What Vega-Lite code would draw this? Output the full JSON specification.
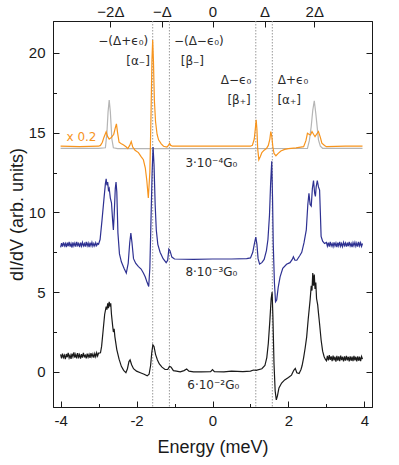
{
"$schema":"https://vega.github.io/schema/vega-lite/v6.json",
"width":319,"height":386,
"autosize":{"type":"none"},
"padding":{"left":53,"top":21,"right":27,"bottom":58},
"background":"white",
"config":{"view":{"stroke":"#1a1a1a","strokeWidth":1},"font":"Liberation Sans",
"axis":{"labelFont":"Liberation Sans","titleFont":"Liberation Sans","grid":false,"domainColor":"#1a1a1a","tickColor":"#1a1a1a","labelColor":"#1a1a1a","titleColor":"#1a1a1a","labelFontSize":15,"titleFontSize":18,"titleFontWeight":"normal","domainWidth":1,"tickWidth":1}},
"datasets":{
"marks":[{"e":-1.575},{"e":-1.135},{"e":1.14},{"e":1.575}],
"notes":[
{"t":"−(Δ+ϵ₀)","e":-2.35,"v":20.75},
{"t":"[α₋]","e":-1.96,"v":19.5},
{"t":"−(Δ−ϵ₀)","e":-0.36,"v":20.75},
{"t":"[β₋]","e":-0.53,"v":19.5},
{"t":"Δ−ϵ₀","e":0.62,"v":18.3},
{"t":"[β₊]","e":0.7,"v":17.06},
{"t":"Δ+ϵ₀","e":2.12,"v":18.3},
{"t":"[α₊]","e":2.02,"v":17.06},
{"t":"x 0.2","e":-3.45,"v":14.75},
{"t":"3·10⁻⁴G₀","e":-0.03,"v":13.1},
{"t":"8·10⁻³G₀","e":-0.03,"v":6.25},
{"t":"6·10⁻²G₀","e":0.02,"v":-0.85}
],
"curves":[
{"s":"gray","e":-4.0,"v":14.02},{"s":"gray","e":-3.0,"v":14.02},{"s":"gray","e":-2.82,"v":14.05},{"s":"gray","e":-2.78,"v":15.0},{"s":"gray","e":-2.75,"v":16.3},{"s":"gray","e":-2.72,"v":17.05},{"s":"gray","e":-2.69,"v":16.3},{"s":"gray","e":-2.65,"v":14.6},{"s":"gray","e":-2.61,"v":14.05},{"s":"gray","e":-2.5,"v":14.0},{"s":"gray","e":0.0,"v":14.0},{"s":"gray","e":2.5,"v":14.02},{"s":"gray","e":2.55,"v":14.5},{"s":"gray","e":2.6,"v":15.4},{"s":"gray","e":2.64,"v":16.4},{"s":"gray","e":2.68,"v":17.0},{"s":"gray","e":2.72,"v":16.2},{"s":"gray","e":2.75,"v":15.5},{"s":"gray","e":2.79,"v":14.55},{"s":"gray","e":2.84,"v":14.15},{"s":"gray","e":2.9,"v":14.02},{"s":"gray","e":3.95,"v":14.02},
{"s":"orange","e":-4.0,"v":14.15},{"s":"orange","e":-3.5,"v":14.13},{"s":"orange","e":-3.0,"v":14.15},{"s":"orange","e":-2.95,"v":14.2},{"s":"orange","e":-2.9,"v":14.4},{"s":"orange","e":-2.86,"v":14.7},{"s":"orange","e":-2.8,"v":15.05},{"s":"orange","e":-2.76,"v":14.75},{"s":"orange","e":-2.72,"v":14.6},{"s":"orange","e":-2.66,"v":14.7},{"s":"orange","e":-2.6,"v":14.9},{"s":"orange","e":-2.56,"v":15.3},{"s":"orange","e":-2.53,"v":15.55},{"s":"orange","e":-2.5,"v":15.0},{"s":"orange","e":-2.46,"v":14.4},{"s":"orange","e":-2.4,"v":14.3},{"s":"orange","e":-2.34,"v":14.22},{"s":"orange","e":-2.27,"v":14.1},{"s":"orange","e":-2.23,"v":14.0},{"s":"orange","e":-2.18,"v":14.2},{"s":"orange","e":-2.14,"v":14.44},{"s":"orange","e":-2.1,"v":14.1},{"s":"orange","e":-2.04,"v":13.9},{"s":"orange","e":-1.95,"v":13.75},{"s":"orange","e":-1.88,"v":13.5},{"s":"orange","e":-1.82,"v":13.3},{"s":"orange","e":-1.77,"v":12.8},{"s":"orange","e":-1.73,"v":12.0},{"s":"orange","e":-1.69,"v":10.9},{"s":"orange","e":-1.65,"v":12.5},{"s":"orange","e":-1.62,"v":16.0},{"s":"orange","e":-1.595,"v":19.5},{"s":"orange","e":-1.575,"v":20.8},{"s":"orange","e":-1.555,"v":19.5},{"s":"orange","e":-1.53,"v":17.0},{"s":"orange","e":-1.5,"v":15.7},{"s":"orange","e":-1.46,"v":14.9},{"s":"orange","e":-1.42,"v":14.55},{"s":"orange","e":-1.35,"v":14.3},{"s":"orange","e":-1.29,"v":14.15},{"s":"orange","e":-1.2,"v":14.1},{"s":"orange","e":-1.16,"v":14.2},{"s":"orange","e":-1.13,"v":14.32},{"s":"orange","e":-1.1,"v":14.2},{"s":"orange","e":-1.05,"v":14.15},{"s":"orange","e":0.0,"v":14.15},{"s":"orange","e":1.0,"v":14.15},{"s":"orange","e":1.05,"v":14.2},{"s":"orange","e":1.1,"v":14.6},{"s":"orange","e":1.13,"v":15.3},{"s":"orange","e":1.15,"v":15.8},{"s":"orange","e":1.17,"v":15.2},{"s":"orange","e":1.19,"v":14.0},{"s":"orange","e":1.22,"v":13.3},{"s":"orange","e":1.26,"v":13.5},{"s":"orange","e":1.3,"v":13.75},{"s":"orange","e":1.36,"v":13.9},{"s":"orange","e":1.42,"v":14.0},{"s":"orange","e":1.47,"v":14.2},{"s":"orange","e":1.51,"v":14.6},{"s":"orange","e":1.535,"v":15.07},{"s":"orange","e":1.56,"v":14.8},{"s":"orange","e":1.59,"v":14.1},{"s":"orange","e":1.62,"v":13.7},{"s":"orange","e":1.67,"v":13.55},{"s":"orange","e":1.73,"v":13.7},{"s":"orange","e":1.8,"v":13.85},{"s":"orange","e":1.9,"v":13.95},{"s":"orange","e":2.0,"v":14.0},{"s":"orange","e":2.2,"v":14.05},{"s":"orange","e":2.4,"v":14.12},{"s":"orange","e":2.46,"v":14.5},{"s":"orange","e":2.5,"v":14.96},{"s":"orange","e":2.54,"v":14.9},{"s":"orange","e":2.58,"v":14.86},{"s":"orange","e":2.62,"v":15.07},{"s":"orange","e":2.66,"v":14.9},{"s":"orange","e":2.7,"v":14.75},{"s":"orange","e":2.74,"v":14.9},{"s":"orange","e":2.79,"v":15.07},{"s":"orange","e":2.84,"v":14.7},{"s":"orange","e":2.88,"v":14.34},{"s":"orange","e":2.95,"v":14.2},{"s":"orange","e":3.0,"v":14.12},{"s":"orange","e":3.5,"v":14.16},{"s":"orange","e":3.95,"v":14.15},
{"s":"blue","e":-4.0,"v":7.8},{"s":"blue","e":-3.975,"v":8.08},{"s":"blue","e":-3.95,"v":7.85},{"s":"blue","e":-3.925,"v":8.12},{"s":"blue","e":-3.9,"v":7.9},{"s":"blue","e":-3.875,"v":8.05},{"s":"blue","e":-3.85,"v":7.82},{"s":"blue","e":-3.825,"v":8.1},{"s":"blue","e":-3.8,"v":7.88},{"s":"blue","e":-3.775,"v":8.15},{"s":"blue","e":-3.75,"v":7.85},{"s":"blue","e":-3.725,"v":8.05},{"s":"blue","e":-3.7,"v":7.8},{"s":"blue","e":-3.675,"v":8.12},{"s":"blue","e":-3.65,"v":7.9},{"s":"blue","e":-3.625,"v":8.08},{"s":"blue","e":-3.6,"v":7.85},{"s":"blue","e":-3.575,"v":8.15},{"s":"blue","e":-3.55,"v":7.92},{"s":"blue","e":-3.525,"v":8.05},{"s":"blue","e":-3.5,"v":7.83},{"s":"blue","e":-3.475,"v":8.1},{"s":"blue","e":-3.45,"v":7.88},{"s":"blue","e":-3.425,"v":8.12},{"s":"blue","e":-3.4,"v":7.9},{"s":"blue","e":-3.375,"v":8.05},{"s":"blue","e":-3.35,"v":7.85},{"s":"blue","e":-3.325,"v":8.15},{"s":"blue","e":-3.3,"v":7.9},{"s":"blue","e":-3.275,"v":8.08},{"s":"blue","e":-3.25,"v":7.82},{"s":"blue","e":-3.225,"v":8.1},{"s":"blue","e":-3.2,"v":7.9},{"s":"blue","e":-3.175,"v":8.12},{"s":"blue","e":-3.15,"v":7.88},{"s":"blue","e":-3.125,"v":8.05},{"s":"blue","e":-3.1,"v":7.9},{"s":"blue","e":-3.075,"v":8.1},{"s":"blue","e":-3.05,"v":7.92},{"s":"blue","e":-3.025,"v":8.05},{"s":"blue","e":-3.0,"v":8.0},
{"s":"blue","e":-2.96,"v":8.3},{"s":"blue","e":-2.91,"v":9.5},{"s":"blue","e":-2.86,"v":10.8},{"s":"blue","e":-2.82,"v":11.8},{"s":"blue","e":-2.8,"v":12.1},{"s":"blue","e":-2.78,"v":11.7},{"s":"blue","e":-2.76,"v":11.9},{"s":"blue","e":-2.74,"v":11.4},{"s":"blue","e":-2.72,"v":11.5},{"s":"blue","e":-2.69,"v":10.9},{"s":"blue","e":-2.66,"v":10.6},{"s":"blue","e":-2.63,"v":9.5},{"s":"blue","e":-2.61,"v":8.9},{"s":"blue","e":-2.59,"v":9.8},{"s":"blue","e":-2.56,"v":11.5},{"s":"blue","e":-2.54,"v":11.9},{"s":"blue","e":-2.52,"v":11.3},{"s":"blue","e":-2.49,"v":8.7},{"s":"blue","e":-2.45,"v":7.4},{"s":"blue","e":-2.4,"v":6.9},{"s":"blue","e":-2.33,"v":6.5},{"s":"blue","e":-2.27,"v":6.2},{"s":"blue","e":-2.22,"v":6.8},{"s":"blue","e":-2.18,"v":8.1},{"s":"blue","e":-2.15,"v":8.7},{"s":"blue","e":-2.12,"v":8.1},{"s":"blue","e":-2.08,"v":7.1},{"s":"blue","e":-2.02,"v":6.8},{"s":"blue","e":-1.95,"v":6.6},{"s":"blue","e":-1.88,"v":6.45},{"s":"blue","e":-1.82,"v":6.2},{"s":"blue","e":-1.77,"v":5.95},{"s":"blue","e":-1.72,"v":5.6},{"s":"blue","e":-1.68,"v":5.35},{"s":"blue","e":-1.65,"v":6.5},{"s":"blue","e":-1.62,"v":9.5},{"s":"blue","e":-1.59,"v":12.5},{"s":"blue","e":-1.565,"v":14.1},{"s":"blue","e":-1.54,"v":13.0},{"s":"blue","e":-1.51,"v":10.5},{"s":"blue","e":-1.48,"v":8.9},{"s":"blue","e":-1.44,"v":8.0},{"s":"blue","e":-1.38,"v":7.5},{"s":"blue","e":-1.3,"v":7.1},{"s":"blue","e":-1.22,"v":6.85},{"s":"blue","e":-1.18,"v":7.0},{"s":"blue","e":-1.15,"v":7.7},{"s":"blue","e":-1.12,"v":7.6},{"s":"blue","e":-1.07,"v":7.2},{"s":"blue","e":-1.0,"v":7.08},{"s":"blue","e":-0.5,"v":7.05},{"s":"blue","e":0.0,"v":7.08},{"s":"blue","e":0.5,"v":7.08},{"s":"blue","e":0.9,"v":7.1},{"s":"blue","e":1.0,"v":7.15},{"s":"blue","e":1.06,"v":7.5},{"s":"blue","e":1.1,"v":8.0},{"s":"blue","e":1.14,"v":8.45},{"s":"blue","e":1.17,"v":8.0},{"s":"blue","e":1.2,"v":7.1},{"s":"blue","e":1.24,"v":6.76},{"s":"blue","e":1.3,"v":6.85},{"s":"blue","e":1.36,"v":7.05},{"s":"blue","e":1.42,"v":7.6},{"s":"blue","e":1.46,"v":8.3},{"s":"blue","e":1.5,"v":9.8},{"s":"blue","e":1.53,"v":11.8},{"s":"blue","e":1.56,"v":13.2},{"s":"blue","e":1.58,"v":11.0},{"s":"blue","e":1.6,"v":8.0},{"s":"blue","e":1.63,"v":5.6},{"s":"blue","e":1.66,"v":4.4},{"s":"blue","e":1.69,"v":4.5},{"s":"blue","e":1.73,"v":5.3},{"s":"blue","e":1.78,"v":5.96},{"s":"blue","e":1.85,"v":6.5},{"s":"blue","e":1.95,"v":6.75},{"s":"blue","e":2.04,"v":6.85},{"s":"blue","e":2.1,"v":7.05},{"s":"blue","e":2.13,"v":7.22},{"s":"blue","e":2.17,"v":7.0},{"s":"blue","e":2.22,"v":7.0},{"s":"blue","e":2.3,"v":7.3},{"s":"blue","e":2.35,"v":7.5},{"s":"blue","e":2.41,"v":8.1},{"s":"blue","e":2.47,"v":8.9},{"s":"blue","e":2.51,"v":10.5},{"s":"blue","e":2.54,"v":11.2},{"s":"blue","e":2.57,"v":10.5},{"s":"blue","e":2.6,"v":10.4},{"s":"blue","e":2.63,"v":11.5},{"s":"blue","e":2.66,"v":12.0},{"s":"blue","e":2.69,"v":11.2},{"s":"blue","e":2.71,"v":11.0},{"s":"blue","e":2.73,"v":11.6},{"s":"blue","e":2.76,"v":12.0},{"s":"blue","e":2.79,"v":11.6},{"s":"blue","e":2.82,"v":11.4},{"s":"blue","e":2.84,"v":10.0},{"s":"blue","e":2.86,"v":8.5},{"s":"blue","e":2.9,"v":8.2},{"s":"blue","e":2.95,"v":8.05},
{"s":"blue","e":3.0,"v":8.12},{"s":"blue","e":3.025,"v":7.88},{"s":"blue","e":3.05,"v":8.1},{"s":"blue","e":3.075,"v":7.85},{"s":"blue","e":3.1,"v":8.15},{"s":"blue","e":3.125,"v":7.9},{"s":"blue","e":3.15,"v":8.05},{"s":"blue","e":3.175,"v":7.85},{"s":"blue","e":3.2,"v":8.12},{"s":"blue","e":3.225,"v":7.9},{"s":"blue","e":3.25,"v":8.08},{"s":"blue","e":3.275,"v":7.82},{"s":"blue","e":3.3,"v":8.1},{"s":"blue","e":3.325,"v":7.9},{"s":"blue","e":3.35,"v":8.15},{"s":"blue","e":3.375,"v":7.88},{"s":"blue","e":3.4,"v":8.05},{"s":"blue","e":3.425,"v":7.85},{"s":"blue","e":3.45,"v":8.12},{"s":"blue","e":3.475,"v":7.92},{"s":"blue","e":3.5,"v":8.08},{"s":"blue","e":3.525,"v":7.85},{"s":"blue","e":3.55,"v":8.1},{"s":"blue","e":3.575,"v":7.88},{"s":"blue","e":3.6,"v":8.15},{"s":"blue","e":3.625,"v":7.9},{"s":"blue","e":3.65,"v":8.05},{"s":"blue","e":3.675,"v":7.83},{"s":"blue","e":3.7,"v":8.1},{"s":"blue","e":3.725,"v":7.9},{"s":"blue","e":3.75,"v":8.12},{"s":"blue","e":3.775,"v":7.88},{"s":"blue","e":3.8,"v":8.08},{"s":"blue","e":3.825,"v":7.85},{"s":"blue","e":3.85,"v":8.15},{"s":"blue","e":3.875,"v":7.9},{"s":"blue","e":3.9,"v":8.1},{"s":"blue","e":3.925,"v":7.87},{"s":"blue","e":3.95,"v":8.05},
{"s":"black","e":-4.0,"v":1.1},{"s":"black","e":-3.975,"v":0.85},{"s":"black","e":-3.95,"v":1.15},{"s":"black","e":-3.925,"v":0.9},{"s":"black","e":-3.9,"v":1.05},{"s":"black","e":-3.875,"v":0.8},{"s":"black","e":-3.85,"v":1.12},{"s":"black","e":-3.825,"v":0.92},{"s":"black","e":-3.8,"v":1.2},{"s":"black","e":-3.775,"v":0.88},{"s":"black","e":-3.75,"v":1.05},{"s":"black","e":-3.725,"v":0.82},{"s":"black","e":-3.7,"v":1.15},{"s":"black","e":-3.675,"v":0.95},{"s":"black","e":-3.65,"v":1.22},{"s":"black","e":-3.625,"v":0.9},{"s":"black","e":-3.6,"v":1.1},{"s":"black","e":-3.575,"v":0.85},{"s":"black","e":-3.55,"v":1.18},{"s":"black","e":-3.525,"v":0.92},{"s":"black","e":-3.5,"v":1.08},{"s":"black","e":-3.475,"v":0.83},{"s":"black","e":-3.45,"v":1.12},{"s":"black","e":-3.425,"v":0.9},{"s":"black","e":-3.4,"v":1.2},{"s":"black","e":-3.375,"v":0.95},{"s":"black","e":-3.35,"v":1.05},{"s":"black","e":-3.325,"v":0.85},{"s":"black","e":-3.3,"v":1.15},{"s":"black","e":-3.275,"v":0.92},{"s":"black","e":-3.25,"v":1.1},{"s":"black","e":-3.225,"v":0.88},{"s":"black","e":-3.2,"v":1.18},{"s":"black","e":-3.175,"v":0.95},{"s":"black","e":-3.15,"v":1.12},{"s":"black","e":-3.125,"v":0.9},{"s":"black","e":-3.1,"v":1.15},{"s":"black","e":-3.075,"v":0.95},{"s":"black","e":-3.05,"v":1.2},{"s":"black","e":-3.025,"v":1.0},{"s":"black","e":-3.0,"v":1.18},
{"s":"black","e":-2.95,"v":1.2},{"s":"black","e":-2.92,"v":1.6},{"s":"black","e":-2.88,"v":2.6},{"s":"black","e":-2.84,"v":3.6},{"s":"black","e":-2.8,"v":4.1},{"s":"black","e":-2.78,"v":3.9},{"s":"black","e":-2.76,"v":4.3},{"s":"black","e":-2.74,"v":4.0},{"s":"black","e":-2.72,"v":4.4},{"s":"black","e":-2.7,"v":4.1},{"s":"black","e":-2.68,"v":4.3},{"s":"black","e":-2.66,"v":3.6},{"s":"black","e":-2.63,"v":2.9},{"s":"black","e":-2.61,"v":2.5},{"s":"black","e":-2.59,"v":2.7},{"s":"black","e":-2.57,"v":2.2},{"s":"black","e":-2.52,"v":1.4},{"s":"black","e":-2.46,"v":0.8},{"s":"black","e":-2.4,"v":0.35},{"s":"black","e":-2.34,"v":0.1},{"s":"black","e":-2.28,"v":-0.05},{"s":"black","e":-2.24,"v":0.2},{"s":"black","e":-2.2,"v":0.65},{"s":"black","e":-2.17,"v":0.75},{"s":"black","e":-2.13,"v":0.45},{"s":"black","e":-2.08,"v":0.2},{"s":"black","e":-2.0,"v":0.05},{"s":"black","e":-1.9,"v":-0.05},{"s":"black","e":-1.8,"v":-0.15},{"s":"black","e":-1.72,"v":-0.25},{"s":"black","e":-1.67,"v":-0.15},{"s":"black","e":-1.63,"v":0.4},{"s":"black","e":-1.6,"v":1.2},{"s":"black","e":-1.57,"v":1.7},{"s":"black","e":-1.54,"v":1.6},{"s":"black","e":-1.5,"v":1.1},{"s":"black","e":-1.45,"v":0.75},{"s":"black","e":-1.4,"v":0.5},{"s":"black","e":-1.33,"v":0.3},{"s":"black","e":-1.25,"v":0.15},{"s":"black","e":-1.18,"v":0.15},{"s":"black","e":-1.13,"v":0.35},{"s":"black","e":-1.09,"v":0.3},{"s":"black","e":-1.03,"v":0.08},{"s":"black","e":-0.95,"v":0.05},{"s":"black","e":-0.85,"v":0.0},{"s":"black","e":-0.75,"v":0.08},{"s":"black","e":-0.68,"v":0.18},{"s":"black","e":-0.62,"v":0.05},{"s":"black","e":-0.5,"v":0.0},{"s":"black","e":-0.3,"v":0.0},{"s":"black","e":-0.05,"v":0.02},{"s":"black","e":0.0,"v":0.15},{"s":"black","e":0.05,"v":0.02},{"s":"black","e":0.3,"v":0.0},{"s":"black","e":0.5,"v":0.05},{"s":"black","e":0.8,"v":0.02},{"s":"black","e":1.0,"v":0.05},{"s":"black","e":1.08,"v":0.12},{"s":"black","e":1.15,"v":0.1},{"s":"black","e":1.3,"v":0.2},{"s":"black","e":1.38,"v":0.4},{"s":"black","e":1.43,"v":0.9},{"s":"black","e":1.47,"v":1.8},{"s":"black","e":1.51,"v":3.2},{"s":"black","e":1.545,"v":4.6},{"s":"black","e":1.57,"v":5.0},{"s":"black","e":1.59,"v":3.5},{"s":"black","e":1.62,"v":0.5},{"s":"black","e":1.65,"v":-1.2},{"s":"black","e":1.68,"v":-1.75},{"s":"black","e":1.71,"v":-1.5},{"s":"black","e":1.75,"v":-1.0},{"s":"black","e":1.82,"v":-0.7},{"s":"black","e":1.9,"v":-0.5},{"s":"black","e":2.0,"v":-0.35},{"s":"black","e":2.08,"v":-0.2},{"s":"black","e":2.14,"v":0.1},{"s":"black","e":2.18,"v":0.22},{"s":"black","e":2.22,"v":-0.05},{"s":"black","e":2.28,"v":-0.1},{"s":"black","e":2.33,"v":0.15},{"s":"black","e":2.36,"v":0.4},{"s":"black","e":2.4,"v":0.9},{"s":"black","e":2.44,"v":1.5},{"s":"black","e":2.48,"v":2.2},{"s":"black","e":2.52,"v":3.3},{"s":"black","e":2.57,"v":4.5},{"s":"black","e":2.6,"v":5.4},{"s":"black","e":2.62,"v":5.1},{"s":"black","e":2.64,"v":6.2},{"s":"black","e":2.66,"v":5.4},{"s":"black","e":2.68,"v":6.1},{"s":"black","e":2.7,"v":5.2},{"s":"black","e":2.72,"v":5.6},{"s":"black","e":2.74,"v":4.6},{"s":"black","e":2.77,"v":4.2},{"s":"black","e":2.79,"v":3.7},{"s":"black","e":2.82,"v":3.0},{"s":"black","e":2.86,"v":2.0},{"s":"black","e":2.9,"v":1.3},{"s":"black","e":2.94,"v":0.95},{"s":"black","e":2.97,"v":0.8},
{"s":"black","e":3.0,"v":0.7},{"s":"black","e":3.025,"v":1.0},{"s":"black","e":3.05,"v":0.72},{"s":"black","e":3.075,"v":1.05},{"s":"black","e":3.1,"v":0.75},{"s":"black","e":3.125,"v":0.98},{"s":"black","e":3.15,"v":0.68},{"s":"black","e":3.175,"v":1.02},{"s":"black","e":3.2,"v":0.72},{"s":"black","e":3.225,"v":0.95},{"s":"black","e":3.25,"v":0.65},{"s":"black","e":3.275,"v":1.0},{"s":"black","e":3.3,"v":0.7},{"s":"black","e":3.325,"v":0.97},{"s":"black","e":3.35,"v":0.68},{"s":"black","e":3.375,"v":1.02},{"s":"black","e":3.4,"v":0.74},{"s":"black","e":3.425,"v":0.95},{"s":"black","e":3.45,"v":0.66},{"s":"black","e":3.475,"v":0.98},{"s":"black","e":3.5,"v":0.7},{"s":"black","e":3.525,"v":1.0},{"s":"black","e":3.55,"v":0.72},{"s":"black","e":3.575,"v":0.95},{"s":"black","e":3.6,"v":0.66},{"s":"black","e":3.625,"v":0.98},{"s":"black","e":3.65,"v":0.7},{"s":"black","e":3.675,"v":0.96},{"s":"black","e":3.7,"v":0.68},{"s":"black","e":3.725,"v":1.0},{"s":"black","e":3.75,"v":0.72},{"s":"black","e":3.775,"v":0.95},{"s":"black","e":3.8,"v":0.66},{"s":"black","e":3.825,"v":0.98},{"s":"black","e":3.85,"v":0.7},{"s":"black","e":3.875,"v":0.95},{"s":"black","e":3.9,"v":0.68},{"s":"black","e":3.925,"v":0.97},{"s":"black","e":3.95,"v":0.8}
]},
"layer":[
{"data":{"name":"marks"},
 "mark":{"type":"rule","color":"#9a9a9a","strokeWidth":1,"strokeDash":[1.5,1.5]},
 "encoding":{"x":{"field":"e","type":"quantitative","scale":{"domain":[-4.2,4.2],"nice":false,"zero":false},
   "axis":{"orient":"top","title":null,"values":[-2.69,-1.33,0,1.37,2.68],
     "labelExpr":"datum.value < -2 ? '−2Δ' : datum.value < -1 ? '−Δ' : datum.value < 1 ? '0' : datum.value < 2 ? 'Δ' : '2Δ'",
     "tickSize":-6,"labelPadding":8,"labelFontSize":15}}}},
{"data":{"name":"curves"},
 "mark":{"type":"line","strokeWidth":1.2},
 "encoding":{
  "x":{"field":"e","type":"quantitative","scale":{"domain":[-4.2,4.2],"nice":false,"zero":false},
   "axis":{"orient":"bottom","title":"Energy (meV)","values":[-4,-3,-2,-1,0,1,2,3,4],
     "labelExpr":"datum.value % 2 === 0 ? '' + datum.value : ''",
     "tickSize":{"condition":{"test":"datum.value % 2 === 0","value":-6},"value":-3.5},
     "labelPadding":12,"titlePadding":10}},
  "y":{"field":"v","type":"quantitative","scale":{"domain":[-2.2,22],"nice":false,"zero":false},
   "axis":{"orient":"left","title":"dI/dV (arb. units)","values":[0,2.5,5,7.5,10,12.5,15,17.5,20],
     "labelExpr":"datum.value % 5 === 0 ? '' + datum.value : ''",
     "tickSize":{"condition":{"test":"datum.value % 5 === 0","value":-6},"value":-3.5},
     "labelPadding":14,"titlePadding":2}},
  "color":{"field":"s","type":"nominal","legend":null,
   "scale":{"domain":["gray","orange","blue","black"],"range":["#b5b5b5","#f7941d","#2e3192","#1a1a1a"]}}}},
{"data":{"name":"notes"},
 "mark":{"type":"text","fontSize":12,"font":"DejaVu Sans","align":"center","baseline":"middle"},
 "encoding":{
  "x":{"field":"e","type":"quantitative","scale":{"domain":[-4.2,4.2],"nice":false,"zero":false},"axis":null},
  "y":{"field":"v","type":"quantitative","scale":{"domain":[-2.2,22],"nice":false,"zero":false},
   "axis":{"orient":"right","title":null,"values":[0,2.5,5,7.5,10,12.5,15,17.5,20],"labels":false,
     "tickSize":{"condition":{"test":"datum.value % 5 === 0","value":-6},"value":-3.5}}},
  "text":{"field":"t"},
  "color":{"condition":{"test":"datum.t === 'x 0.2'","value":"#f7941d"},"value":"#2a2a2a"}}}
],
"resolve":{"axis":{"x":"independent","y":"independent"}}
}
